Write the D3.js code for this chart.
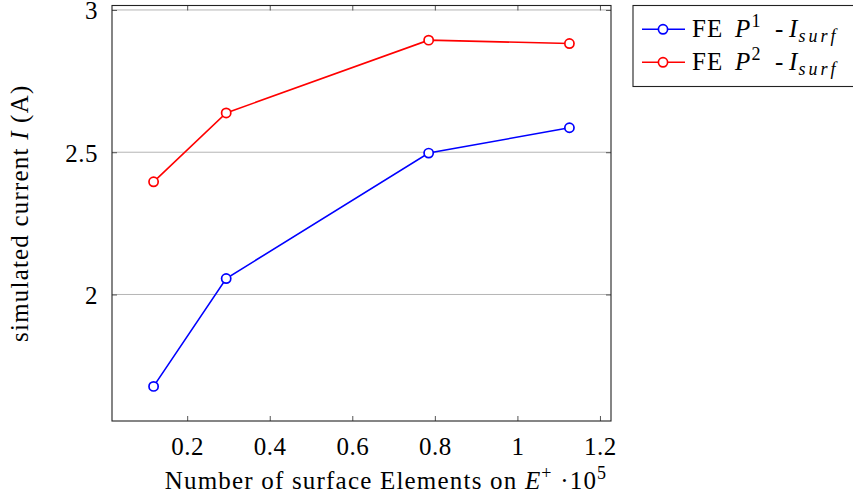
<!DOCTYPE html>
<html><head><meta charset="utf-8">
<script src="https://cdn.jsdelivr.net/npm/d3@7"></script>
<style>
html,body{margin:0;padding:0;background:#fff;}
svg text{font-family:"Liberation Serif","DejaVu Serif",serif;fill:#000;}
</style></head>
<body><svg id="chart" width="853" height="500"></svg>
<script>
const xValues = [0.1186, 0.2945, 0.785, 1.126];
const seriesP1 = [1.677, 2.056, 2.497, 2.586];
const seriesP2 = [2.396, 2.638, 2.894, 2.882];
const xTicks = [0.2, 0.4, 0.6, 0.8, 1, 1.2];
const yTicks = [2, 2.5, 3];
const seriesNames = ["P1", "P2"];
const seriesColors = ["#0000ff", "#ff0000"];

const svg = d3.select("#chart");
const L = 112, R = 611, T = 5.5, B = 421;
const FS = 25;
const LS = "1.2px";

const allY = seriesP1.concat(seriesP2);
const xMin = d3.min(xValues), xMax = d3.max(xValues);
const yMin = d3.min(allY), yMax = d3.max(allY);
const xPad = (xMax - xMin) * 0.1, yPad = (yMax - yMin) * 0.1;
const x = d3.scaleLinear().domain([xMin - xPad, xMax + xPad]).range([L, R]);
const y = d3.scaleLinear().domain([yMin - yPad, yMax + yPad]).range([B, T]);

// grid lines
svg.append("g").selectAll("line").data(yTicks).join("line")
  .attr("x1", L).attr("x2", R)
  .attr("y1", d => y(d)).attr("y2", d => y(d))
  .attr("stroke", "#b5b5b5").attr("stroke-width", 1);

// axes with inward ticks
const tickLen = 5;
const gx = svg.append("g").attr("transform", `translate(0,${B})`)
  .call(d3.axisBottom(x).tickValues(xTicks).tickSize(-tickLen).tickPadding(16)
    .tickFormat(d => d3.format("")(d)));
const gxTop = svg.append("g").attr("transform", `translate(0,${T})`)
  .call(d3.axisTop(x).tickValues(xTicks).tickSize(-tickLen).tickFormat(""));
const gy = svg.append("g").attr("transform", `translate(${L},0)`)
  .call(d3.axisLeft(y).tickValues(yTicks).tickSize(-tickLen).tickPadding(14)
    .tickFormat(d => d3.format("")(d)));
const gyR = svg.append("g").attr("transform", `translate(${R},0)`)
  .call(d3.axisRight(y).tickValues(yTicks).tickSize(-tickLen).tickFormat(""));
[gx, gxTop, gy, gyR].forEach(g => {
  g.select(".domain").remove();
  g.selectAll(".tick line").attr("stroke", "#555").attr("stroke-width", 1);
  g.selectAll(".tick text").style("font-family", '"Liberation Serif",serif')
    .attr("font-size", FS).attr("fill", "#000").style("letter-spacing", "0.5px");
});
gx.selectAll(".tick text").attr("dy", "0.71em");
gy.selectAll(".tick text").attr("dy", "0.36em");

// frame
svg.append("rect").attr("x", L).attr("y", T).attr("width", R - L).attr("height", B - T)
  .attr("fill", "none").attr("stroke", "#222").attr("stroke-width", 1.1);

// series
const line = d3.line().x(d => x(d[0])).y(d => y(d[1]));
[seriesP1, seriesP2].forEach((vals, i) => {
  const pts = xValues.map((xv, j) => [xv, vals[j]]);
  svg.append("path").datum(pts).attr("d", line)
    .attr("fill", "none").attr("stroke", seriesColors[i]).attr("stroke-width", 1.6);
  svg.append("g").selectAll("circle").data(pts).join("circle")
    .attr("cx", d => x(d[0])).attr("cy", d => y(d[1])).attr("r", 4.6)
    .attr("fill", "#fff").attr("stroke", seriesColors[i]).attr("stroke-width", 1.7);
});

// axis labels
const xl = svg.append("text").attr("x", 386).attr("y", 489)
  .attr("text-anchor", "middle").attr("font-size", FS).style("letter-spacing", LS);
xl.append("tspan").text("Number of surface Elements on ");
xl.append("tspan").attr("font-style", "italic").text("E");
xl.append("tspan").attr("font-size", FS * 0.72).attr("dy", -10).text("+");
xl.append("tspan").attr("dy", 10).text(" \u00b710");
xl.append("tspan").attr("font-size", FS * 0.72).attr("dy", -10).text("5");

const yl = svg.append("text").attr("transform", `translate(28,${(T + B) / 2}) rotate(-90)`)
  .attr("text-anchor", "middle").attr("font-size", FS).style("letter-spacing", LS);
yl.append("tspan").text("simulated current ");
yl.append("tspan").attr("font-style", "italic").text("I");
yl.append("tspan").text(" (A)");

// legend
const lg = svg.append("g");
lg.append("rect").attr("x", 633).attr("y", 5.5).attr("width", 240).attr("height", 81)
  .attr("fill", "#fff").attr("stroke", "#222").attr("stroke-width", 1.1);
seriesNames.forEach((nm, i) => {
  const cy = 29.3 + i * 33;
  lg.append("line").attr("x1", 642).attr("x2", 685).attr("y1", cy).attr("y2", cy)
    .attr("stroke", seriesColors[i]).attr("stroke-width", 1.6);
  lg.append("circle").attr("cx", 663).attr("cy", cy).attr("r", 4.6)
    .attr("fill", "#fff").attr("stroke", seriesColors[i]).attr("stroke-width", 1.7);
  const t = lg.append("text").attr("y", cy + 8).attr("font-size", FS)
    .style("letter-spacing", LS);
  t.append("tspan").attr("x", 692).text("FE");
  t.append("tspan").attr("x", 735).attr("font-style", "italic").text("P");
  t.append("tspan").attr("font-size", FS * 0.72).attr("dy", -10).text(nm.slice(1));
  t.append("tspan").attr("x", 775).attr("dy", 10).text("-");
  t.append("tspan").attr("x", 789).attr("font-style", "italic").text("I");
  t.append("tspan").attr("font-style", "italic").attr("font-size", FS * 0.72).attr("dy", 5)
    .style("letter-spacing", "3px").text("surf");
});
</script></body></html>
